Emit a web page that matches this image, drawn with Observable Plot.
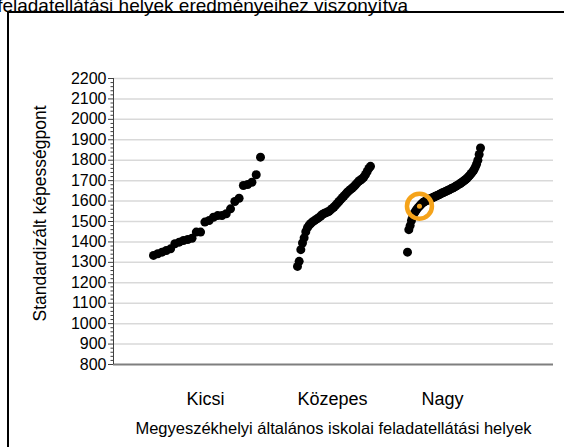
<!DOCTYPE html>
<html>
<head>
<meta charset="utf-8">
<script src="https://cdn.jsdelivr.net/npm/d3@7"></script>
<script src="https://cdn.jsdelivr.net/npm/@observablehq/plot@0.6"></script>
<style>
  html, body { margin: 0; padding: 0; background: #fff; overflow: hidden; }
  #wrap { position: relative; width: 564px; height: 447px; overflow: hidden; font-family: "Liberation Sans", Arial, sans-serif; }
  #title { position: absolute; right: 156px; top: -4px; font-size: 19px; line-height: 19px; white-space: nowrap; color: #000; }
  #frame { position: absolute; left: 7px; top: 11px; width: 700px; height: 600px; border: 2px solid #000; box-sizing: border-box; }
  #chart { position: absolute; left: 0; top: 0; }
</style>
</head>
<body>
<div id="wrap">
  <div id="frame"></div>
  <div id="title">feladatellátási helyek eredményeihez viszonyítva</div>
  <div id="chart"></div>
</div>
<script>
// ---- data ----
const categories = ["Kicsi", "Közepes", "Nagy"];
const kicsi = [1334, 1342, 1350, 1358, 1366, 1391, 1399, 1407, 1412, 1418, 1448, 1448, 1497, 1505,
  1521, 1529, 1529, 1538, 1562, 1598, 1614, 1676, 1681, 1692, 1729, 1815];
const kozepes = [1280, 1305, 1362, 1395, 1420, 1450, 1470, 1482, 1490, 1498, 1503, 1509, 1514, 1520,
  1527, 1534, 1539, 1543, 1546, 1550, 1557, 1564, 1571, 1580, 1589, 1598, 1607, 1616, 1625, 1634,
  1643, 1650, 1657, 1664, 1671, 1680, 1689, 1698, 1703, 1709, 1718, 1730, 1745, 1760, 1770];
const nagy = [1350, 1460, 1480, 1505, 1525, 1540, 1550, 1560, 1568, 1575, 1582, 1589, 1594, 1598,
  1601, 1604, 1607, 1611, 1614, 1617, 1620, 1623, 1626, 1629, 1632, 1636, 1639, 1642, 1645, 1648,
  1651, 1654, 1657, 1661, 1664, 1667, 1671, 1675, 1679, 1683, 1687, 1692, 1697, 1702, 1707, 1713,
  1720, 1727, 1735, 1743, 1752, 1765, 1780, 1800, 1828, 1860];
const highlightIndex = 9; // highlighted school within "Nagy"
const yTicks = d3.range(800, 2201, 100);
const yMinorTicks = d3.range(800, 2201, 20).filter(v => v % 100 !== 0);
const yLabel = "Standardizált képességpont";
const xLabel = "Megyeszékhelyi általános iskolai feladatellátási helyek";

// ---- layout of strips (x scale units) ----
const series = [kicsi, kozepes, nagy];
const stripStart = [40, 184, 294];
const stripWidth = [107, 73, 73];

const points = [];
series.forEach((vals, c) => {
  const n = vals.length;
  vals.forEach((v, i) => {
    points.push({cat: categories[c], i, x: stripStart[c] + stripWidth[c] * i / (n - 1), y: v});
  });
});
const centers = categories.map((c, k) => stripStart[k] + stripWidth[k] / 2 - 1.5);
const highlight = points.filter(d => d.cat === "Nagy" && d.i === highlightIndex);

const font = "'Liberation Sans', Arial, sans-serif";

const chart = Plot.plot({
  width: 564,
  height: 447,
  marginLeft: 113,
  marginRight: 11,
  marginTop: 78,
  marginBottom: 83,
  style: {fontFamily: font, fontSize: "16px", color: "#000", background: "transparent"},
  x: {type: "linear", domain: [0, 440], axis: null},
  y: {type: "linear", domain: [800, 2200], axis: null},
  marks: [
    Plot.ruleY(yTicks.filter(v => v > 800), {stroke: "#d9d9d9", strokeWidth: 1.5}),
    Plot.ruleY([800], {stroke: "#7f7f7f", strokeWidth: 2}),
    Plot.ruleX([0], {stroke: "#404040", strokeWidth: 1}),
    Plot.axisY({ticks: yMinorTicks, tickSize: 2.5, tickFormat: () => "", stroke: "#404040", label: null}),
    Plot.axisY({ticks: yTicks, tickSize: 5, tickPadding: 2, tickFormat: d => String(d), stroke: "#404040", fontSize: 16, label: null}),
    Plot.axisX({ticks: centers, tickFormat: (d, i) => categories[i], tickSize: 0, tickPadding: 28, fontSize: 18, label: null}),
    Plot.text([xLabel], {frameAnchor: "bottom", dy: 64, fontSize: 16.5, lineAnchor: "middle", fill: "#000"}),
    Plot.text([yLabel], {frameAnchor: "left", dx: -73, dy: -8, rotate: -90, textAnchor: "middle", fontSize: 17.5, lineAnchor: "middle", fill: "#000"}),
    Plot.dot(points, {x: "x", y: "y", r: 4.5, fill: "#000", stroke: "none"}),
    Plot.dot(highlight, {x: "x", y: "y", r: 12.5, fill: "none", stroke: "#f5a31a", strokeWidth: 4.5}),
    Plot.dot(highlight, {x: "x", y: "y", r: 2.5, fill: "#f5a31a", stroke: "none"})
  ]
});
document.getElementById("chart").appendChild(chart);
</script>
</body>
</html>
